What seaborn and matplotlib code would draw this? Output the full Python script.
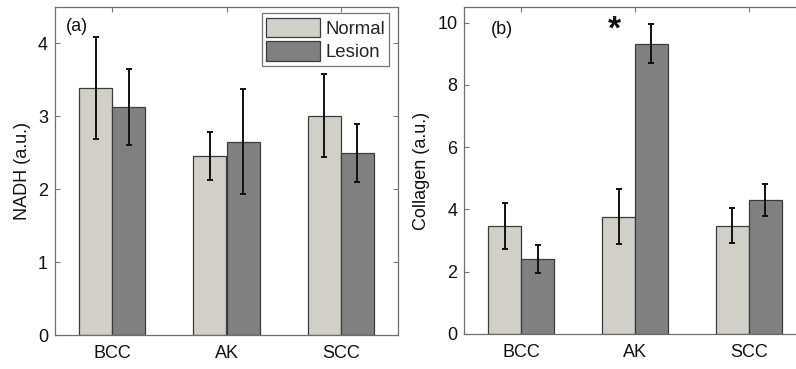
import numpy as np
import pandas as pd
import matplotlib
matplotlib.use("Agg")
import matplotlib.pyplot as plt
import seaborn as sns

categories = ["BCC", "AK", "SCC"]
groups = ["Normal", "Lesion"]
nadh_normal = [3.39, 2.45, 3.01]
nadh_lesion = [3.13, 2.65, 2.50]
nadh_normal_err = [0.70, 0.33, 0.57]
nadh_lesion_err = [0.52, 0.72, 0.40]
coll_normal = [3.47, 3.77, 3.48]
coll_lesion = [2.42, 9.32, 4.30]
coll_normal_err = [0.75, 0.87, 0.55]
coll_lesion_err = [0.45, 0.63, 0.51]

sns.set_theme(style="white")
plt.rcParams["font.family"] = ["Liberation Sans", "DejaVu Sans"]

colors = {"Normal": "#d0d0c8", "Lesion": "#808080"}
W, H = 796, 369
fig = plt.figure(figsize=(W / 100, H / 100), dpi=100)
ax1 = fig.add_axes([55 / W, 34 / H, 343 / W, 328 / H])
ax2 = fig.add_axes([464.5 / W, 35 / H, 341 / W, 327 / H])


def panel(ax, normal, lesion, nerr, lerr, ylim, yticks, ylabel, tag, legend):
    df = pd.DataFrame({
        "cat": categories * 2,
        "grp": ["Normal"] * 3 + ["Lesion"] * 3,
        "val": list(normal) + list(lesion),
        "err": list(nerr) + list(lerr),
    })
    sns.barplot(data=df, x="cat", y="val", hue="grp", hue_order=groups,
                order=categories, palette=colors, width=0.58, errorbar=None,
                edgecolor="#3c3c3c", linewidth=0.9, saturation=1, ax=ax,
                legend=legend)
    bars = [p for p in ax.patches if p.get_height() > 0]
    errs = list(nerr) + list(lerr)
    for p, e in zip(bars, errs):
        xc = p.get_x() + p.get_width() / 2
        ax.errorbar(xc, p.get_height(), yerr=e, fmt="none", ecolor="#111111",
                    elinewidth=1.4, capsize=2.5, capthick=1.4, zorder=5)
    ax.set_xlim(-0.5, 2.5)
    ax.set_ylim(*ylim)
    ax.set_yticks(yticks)
    ax.set_xlabel("")
    ax.set_ylabel(ylabel, fontsize=13, color="#111111", labelpad=5)
    ax.tick_params(axis="both", direction="in", length=3.5, width=0.8,
                   color="#777777", labelsize=13, labelcolor="#111111",
                   top=True, right=True, bottom=True, left=True, pad=5)
    ax.tick_params(axis="x", pad=7)
    for s in ax.spines.values():
        s.set_color("#6e6e6e")
        s.set_linewidth(0.9)
        s.set_visible(True)
    ax.text(tag[1], tag[2], tag[0], transform=ax.transAxes, fontsize=13,
            ha="center", va="center", color="#111111")
    return ax


panel(ax1, nadh_normal, nadh_lesion, nadh_normal_err, nadh_lesion_err,
      (0, 4.5), [0, 1, 2, 3, 4], "NADH (a.u.)", ("(a)", 0.063, 0.94), True)
leg = ax1.legend(loc="upper right", bbox_to_anchor=(0.975, 0.982), fontsize=13.4,
                 frameon=True, fancybox=False, edgecolor="#555555",
                 handlelength=2.9, handleheight=1.25, handletextpad=0.25,
                 borderpad=0.25, labelspacing=0.2, borderaxespad=0.0)
leg.get_frame().set_linewidth(0.9)

panel(ax2, coll_normal, coll_lesion, coll_normal_err, coll_lesion_err,
      (0, 10.5), [0, 2, 4, 6, 8, 10], "Collagen (a.u.)", ("(b)", 0.11, 0.93), False)
ax2.text(0.82, 9.75, "*", fontsize=24, fontweight="bold", ha="center",
         va="center", color="#111111")

fig.savefig("out.png", dpi=100)
